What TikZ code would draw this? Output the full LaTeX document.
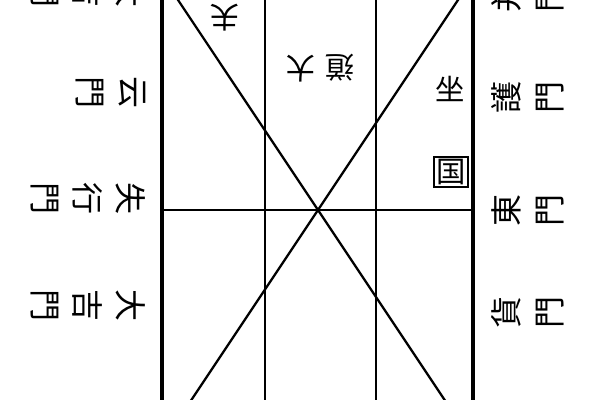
\documentclass[tikz,border=0pt]{standalone}
\usepackage{fontspec}
\newfontfamily\cjk{Noto Sans CJK TC}
\tikzset{every picture/.style={line width=0.75pt}}
\tikzset{
  frameline/.style={line width=3.2pt},
  gridline/.style={line width=1.7pt},
  gatelabel/.style={inner sep=0pt, font=\cjk\fontsize{24}{32}\selectfont, align=center},
  roomlabel/.style={inner sep=0pt, font=\cjk\fontsize{22}{24}\selectfont}
}

\begin{document}
\begin{tikzpicture}[x=0.75pt,y=0.75pt,yscale=-1,xscale=1]
\useasboundingbox (0,0) rectangle (600,400);
\clip (0,0) rectangle (600,400);

%Straight Lines
\draw [frameline] (162,-5) -- (162,405) ;
%Straight Lines
\draw [frameline] (473,-5) -- (473,405) ;
%Straight Lines
\draw [gridline] (265,-5) -- (265,405) ;
%Straight Lines
\draw [gridline] (376,-5) -- (376,405) ;
%Straight Lines
\draw [gridline] (162,210) -- (473,210) ;
%Straight Lines
\draw [gridline] (174.7,-5) -- (448,405) ;
%Straight Lines
\draw [gridline] (461.3,-5) -- (188,405) ;

% Text Node
\node (gateA) [gatelabel, rotate=-90, anchor=north] at (146,-9) {大\\吉\\門};
% Text Node
\node (gateB) [gatelabel, rotate=-90, anchor=north] at (146,92) {云\\門};
% Text Node
\node (gateC) [gatelabel, rotate=-90, anchor=north] at (146,198) {失\\行\\門};
% Text Node
\node (gateD) [gatelabel, rotate=-90, anchor=north] at (146,305) {大\\吉\\門};
% Text Node
\node (gateE) [gatelabel, rotate=90, anchor=north] at (491,-4) {并\\門};
% Text Node
\node (gateF) [gatelabel, rotate=90, anchor=north] at (491,97) {護\\門};
% Text Node
\node (gateG) [gatelabel, rotate=90, anchor=north] at (491,210) {東\\門};
% Text Node
\node (gateH) [gatelabel, rotate=90, anchor=north] at (491,312) {貨\\門};

% Text Node
\node (roomA) [roomlabel, rotate=180] at (225,18) {夫};
% Text Node
\node (roomB) [roomlabel, rotate=180] at (301,69) {大};
% Text Node
\node (roomC) [roomlabel, rotate=180] at (340,68) {道};
% Text Node
\node (roomD) [roomlabel] at (450,89) {坐};
% Text Node
\node (roomE) [roomlabel, draw, line width=1.4pt, inner sep=1.5pt] at (451,172) {国};

\end{tikzpicture}
\end{document}
